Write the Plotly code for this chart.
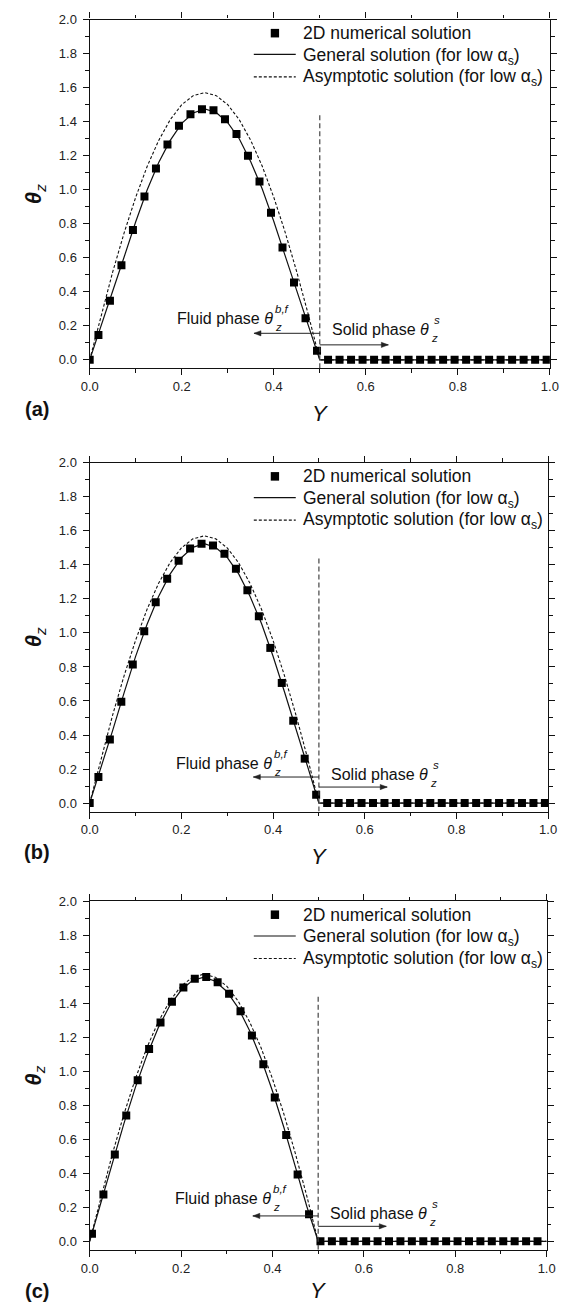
import plotly.graph_objects as go

W, H = 576, 1302
FONT = "Liberation Sans, Arial, sans-serif"

# ------------------------------------------------------------------ data
# 2D numerical solution (markers)
x_num_ab = [0.0, 0.019, 0.044, 0.069, 0.094, 0.119, 0.144, 0.169, 0.194, 0.219, 0.244,
            0.269, 0.294, 0.319, 0.344, 0.369, 0.394, 0.419, 0.444, 0.469, 0.494,
            0.518, 0.543, 0.568, 0.593, 0.618, 0.643, 0.668, 0.693, 0.718, 0.743,
            0.768, 0.793, 0.818, 0.843, 0.868, 0.893, 0.918, 0.943, 0.968, 0.993]
num_a = [0.0, 0.146, 0.347, 0.556, 0.763, 0.960, 1.125, 1.266, 1.376, 1.444, 1.473,
         1.467, 1.415, 1.327, 1.200, 1.048, 0.864, 0.661, 0.455, 0.244, 0.053,
         0.0, 0.0, 0.0, 0.0, 0.0, 0.0, 0.0, 0.0, 0.0, 0.0,
         0.0, 0.0, 0.0, 0.0, 0.0, 0.0, 0.0, 0.0, 0.0, 0.0]
num_b = [0.0, 0.153, 0.373, 0.596, 0.814, 1.010, 1.180, 1.318, 1.425, 1.496, 1.524,
         1.514, 1.465, 1.378, 1.251, 1.098, 0.912, 0.706, 0.484, 0.261, 0.049,
         0.0, 0.0, 0.0, 0.0, 0.0, 0.0, 0.0, 0.0, 0.0, 0.0,
         0.0, 0.0, 0.0, 0.0, 0.0, 0.0, 0.0, 0.0, 0.0, 0.0]
x_num_c = [0.005, 0.03, 0.055, 0.08, 0.105, 0.13, 0.155, 0.18, 0.205, 0.23,
           0.255, 0.28, 0.305, 0.33, 0.355, 0.38, 0.405, 0.43, 0.455, 0.48,
           0.505, 0.53, 0.555, 0.58, 0.605, 0.63, 0.655, 0.68, 0.705, 0.73,
           0.755, 0.78, 0.805, 0.83, 0.855, 0.88, 0.905, 0.93, 0.955, 0.98]
num_c = [0.045, 0.275, 0.511, 0.739, 0.947, 1.130, 1.287, 1.409, 1.493, 1.544,
         1.554, 1.523, 1.456, 1.352, 1.210, 1.041, 0.845, 0.625, 0.393, 0.159,
         0.0, 0.0, 0.0, 0.0, 0.0, 0.0, 0.0, 0.0, 0.0, 0.0,
         0.0, 0.0, 0.0, 0.0, 0.0, 0.0, 0.0, 0.0, 0.0, 0.0]

# General / asymptotic solutions (curves)
x_curve = [0.0, 0.025, 0.05, 0.075, 0.1, 0.125, 0.15, 0.175, 0.2, 0.225, 0.25,
           0.275, 0.3, 0.325, 0.35, 0.375, 0.4, 0.425, 0.45, 0.475, 0.5, 1.0]
gen_a = [0.0, 0.196, 0.405, 0.606, 0.812, 1.000, 1.160, 1.290, 1.390, 1.451, 1.475,
         1.454, 1.394, 1.300, 1.165, 1.004, 0.815, 0.610, 0.405, 0.198, 0.0, 0.0]
gen_b = [0.0, 0.206, 0.426, 0.648, 0.861, 1.050, 1.213, 1.344, 1.442, 1.503, 1.525,
         1.502, 1.444, 1.347, 1.214, 1.054, 0.863, 0.653, 0.431, 0.210, 0.0, 0.0]
gen_c = [0.0, 0.229, 0.464, 0.693, 0.905, 1.093, 1.256, 1.385, 1.476, 1.534, 1.553,
         1.529, 1.469, 1.373, 1.238, 1.075, 0.884, 0.669, 0.439, 0.206, 0.0, 0.0]
asym = [0.0, 0.267, 0.517, 0.748, 0.956, 1.138, 1.290, 1.412, 1.500, 1.553, 1.571,
        1.553, 1.500, 1.412, 1.290, 1.138, 0.956, 0.748, 0.517, 0.267, 0.0, 0.0]

panel_labels = ["(a)", "(b)", "(c)"]
x_ticks = [0.0, 0.2, 0.4, 0.6, 0.8, 1.0]
y_ticks = [0.0, 0.2, 0.4, 0.6, 0.8, 1.0, 1.2, 1.4, 1.6, 1.8, 2.0]

interface_x = 0.5
interface_top = 1.45
# annotation anchor values (data units)
fluid_text_y = [0.244, 0.235, 0.251]
solid_text_y = [0.181, 0.170, 0.163]
left_arrow_y = [0.156, 0.153, 0.149]
right_arrow_y = [0.088, 0.094, 0.088]
left_arrow_end = 0.357
right_arrow_end = 0.649
fluid_theta_end = 0.400
solid_theta_end = 0.740

legend_names = ["2D numerical solution",
                "General solution (for low α<sub>s</sub>)",
                "Asymptotic solution (for low α<sub>s</sub>)"]

# ------------------------------------------------------------------ layout geometry (pixels)
panels = [
    dict(top=12.7, bottom=363.3, left=83.3, right=558.3, ytitle=45),
    dict(top=458.3, bottom=808.9, left=83.3, right=556.5, ytitle=45),
    dict(top=899.0, bottom=1249.5, left=83.3, right=555.0, ytitle=41),
]
series = [
    (x_num_ab, num_a, gen_a),
    (x_num_ab, num_b, gen_b),
    (x_num_c, num_c, gen_c),
]


def fx(px):
    return px / W


def fy(py):
    return 1 - py / H


fig = go.Figure()
layout = dict(
    width=W, height=H, margin=dict(l=0, r=0, t=0, b=0),
    paper_bgcolor="white", plot_bgcolor="white", showlegend=False,
    font=dict(family=FONT, color="#111"),
)
shapes, annos = [], []


def arrow(xr, yr, x_tail, x_head, y, direction):
    """Horizontal arrow drawn with shapes: shaft + small filled head."""
    shapes.append(dict(type="line", xref=xr, yref=yr, x0=x_tail, x1=x_head, y0=y, y1=y,
                       line=dict(color="#222", width=1)))
    hl, hw = 7, 2.6
    if direction < 0:
        path = f"M0,0 L{hl},{hw} L{hl},{-hw} Z"
    else:
        path = f"M0,0 L{-hl},{hw} L{-hl},{-hw} Z"
    shapes.append(dict(type="path", xref=xr, yref=yr, xsizemode="pixel", ysizemode="pixel",
                       xanchor=x_head, yanchor=y, path=path,
                       fillcolor="#222", line=dict(color="#222", width=0.5)))


for i, p in enumerate(panels):
    n = "" if i == 0 else str(i + 1)
    xs, ys_num, ys_gen = series[i]
    xr, yr = "x" + n, "y" + n

    fig.add_trace(go.Scatter(x=x_curve, y=asym, mode="lines", xaxis=xr, yaxis=yr,
                             line=dict(color="#111", width=1.1, dash="3px,2px")))
    fig.add_trace(go.Scatter(x=x_curve, y=ys_gen, mode="lines", xaxis=xr, yaxis=yr,
                             line=dict(color="#111", width=1.2)))
    fig.add_trace(go.Scatter(x=xs, y=ys_num, mode="markers", xaxis=xr, yaxis=yr,
                             marker=dict(symbol="square", size=8, color="#000",
                                         line=dict(width=0))))

    common = dict(showgrid=False, zeroline=False, showline=True, linecolor="#111",
                  linewidth=1.3, ticks="outside", tickcolor="#111", tickwidth=1.2,
                  ticklen=6, mirror="ticks", tickfont=dict(family=FONT, size=13, color="#222"),
                  tickformat=".1f")
    layout["xaxis" + n] = dict(common, domain=[fx(p["left"]), fx(p["right"])], range=[0, 1],
                               anchor=yr, tickvals=x_ticks,
                               minor=dict(tickvals=[0.1, 0.3, 0.5, 0.7, 0.9], ticks="outside",
                                          ticklen=3.5, tickcolor="#111", tickwidth=1))
    layout["yaxis" + n] = dict(common, domain=[fy(p["bottom"]), fy(p["top"])],
                               range=[-0.05, 2.0], anchor=xr, tickvals=y_ticks,
                               ticklabelstandoff=3,
                               minor=dict(tickvals=[0.1, 0.3, 0.5, 0.7, 0.9, 1.1, 1.3, 1.5, 1.7, 1.9],
                                          ticks="outside", ticklen=3.5, tickcolor="#111", tickwidth=1))

    # interface dashed line
    shapes.append(dict(type="line", xref=xr, yref=yr, x0=interface_x, x1=interface_x,
                       y0=-0.05, y1=interface_top,
                       line=dict(color="#444", width=1.2, dash="5px,3px")))

    # arrows
    arrow(xr, yr, interface_x, left_arrow_end, left_arrow_y[i], -1)
    arrow(xr, yr, interface_x, right_arrow_end, right_arrow_y[i], 1)

    # phase texts (θ with stacked sub/superscripts)
    tf = dict(family=FONT, size=16, color="#111")
    sf = dict(family=FONT, size=11.5, color="#111")
    annos.append(dict(xref=xr, yref=yr, x=fluid_theta_end, y=fluid_text_y[i], xanchor="right",
                      yanchor="middle", text="Fluid phase <i>θ</i>", showarrow=False, font=tf,
                      borderpad=0))
    annos.append(dict(xref=xr, yref=yr, x=fluid_theta_end, y=fluid_text_y[i], yshift=9.5,
                      xanchor="left", yanchor="middle", text="<i>b,f</i>", showarrow=False,
                      font=sf, borderpad=0))
    annos.append(dict(xref=xr, yref=yr, x=fluid_theta_end, y=fluid_text_y[i], yshift=-8.5,
                      xanchor="left", yanchor="middle", text="<i>z</i>", showarrow=False,
                      font=sf, borderpad=0))
    annos.append(dict(xref=xr, yref=yr, x=solid_theta_end, y=solid_text_y[i], xanchor="right",
                      yanchor="middle", text="Solid phase <i>θ</i>", showarrow=False, font=tf,
                      borderpad=0))
    annos.append(dict(xref=xr, yref=yr, x=solid_theta_end + 0.006, y=solid_text_y[i], yshift=9.5,
                      xanchor="left", yanchor="middle", text="<i>s</i>", showarrow=False,
                      font=sf, borderpad=0))
    annos.append(dict(xref=xr, yref=yr, x=solid_theta_end, y=solid_text_y[i], yshift=-8.5,
                      xanchor="left", yanchor="middle", text="<i>z</i>", showarrow=False,
                      font=sf, borderpad=0))

    # axis titles and panel label
    mid_x = (p["left"] + p["right"]) / 2
    annos.append(dict(xref="paper", yref="paper", x=fx(mid_x), y=fy(p["bottom"] + p["ytitle"]),
                      xanchor="center", yanchor="middle", showarrow=False, text="<i>Y</i>",
                      borderpad=0, font=dict(family=FONT, size=22, color="#111")))
    annos.append(dict(xref="paper", yref="paper", x=fx(27), y=fy((p["top"] + p["bottom"]) / 2),
                      xanchor="center", yanchor="middle", showarrow=False, textangle=-90,
                      text="<b><i>θ</i></b><sub><i>z</i></sub>",
                      font=dict(family=FONT, size=22, color="#111")))
    annos.append(dict(xref="paper", yref="paper", x=fx(28.5), y=fy(p["bottom"] + 41),
                      xanchor="center", yanchor="middle", showarrow=False,
                      text="<b>" + panel_labels[i] + "</b>",
                      font=dict(family=FONT, size=20, color="#111")))

    # legend (drawn inside the plot, top right)
    t = p["top"]
    sq = 4.3
    shapes.append(dict(type="rect", xref="paper", yref="paper",
                       x0=fx(274.5 - sq), x1=fx(274.5 + sq), y0=fy(t + 13.6 + sq), y1=fy(t + 13.6 - sq),
                       fillcolor="#000", line=dict(width=0)))
    shapes.append(dict(type="line", xref="paper", yref="paper", x0=fx(252.7), x1=fx(296),
                       y0=fy(t + 35), y1=fy(t + 35), line=dict(color="#111", width=1.2)))
    shapes.append(dict(type="line", xref="paper", yref="paper", x0=fx(252.7), x1=fx(296),
                       y0=fy(t + 57.6), y1=fy(t + 57.6),
                       line=dict(color="#111", width=1.1, dash="3px,2px")))
    for k, yoff in enumerate([13.6, 36.6, 58.3]):
        annos.append(dict(xref="paper", yref="paper", x=fx(302.7), y=fy(t + yoff),
                          xanchor="left", yanchor="middle", showarrow=False,
                          text=legend_names[k], borderpad=0,
                          font=dict(family=FONT, size=17.5, color="#111")))

layout["shapes"] = shapes
layout["annotations"] = annos
fig.update_layout(**layout)
fig.write_html("out.html")
